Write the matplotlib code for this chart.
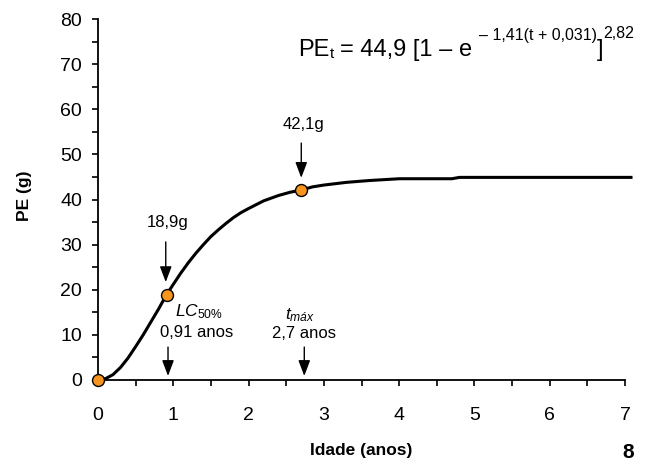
import matplotlib
matplotlib.use("Agg")
import matplotlib.pyplot as plt

plt.rcParams['font.family'] = ['Liberation Sans', 'DejaVu Sans']
plt.rcParams['mathtext.fontset'] = 'custom'
plt.rcParams['mathtext.rm'] = 'Liberation Sans'
plt.rcParams['mathtext.it'] = 'Liberation Sans:italic'
plt.rcParams['mathtext.bf'] = 'Liberation Sans:bold'

# Curve
age = [0.0, 0.1, 0.2, 0.3, 0.4, 0.5, 0.6, 0.7, 0.8, 0.91, 1.0, 1.1, 1.2, 1.3,
       1.4, 1.5, 1.6, 1.7, 1.8, 1.9, 2.0, 2.2, 2.4, 2.55, 2.7, 2.85, 3.0, 3.3,
       3.6, 4.0, 4.7, 4.8, 7.1]
weight = [0.0, 0.3, 1.2, 2.8, 4.9, 7.4, 10.0, 12.8, 15.6, 18.9, 21.2, 23.7, 26.0,
          28.1, 30.0, 31.8, 33.3, 34.7, 36.0, 37.1, 38.0, 39.7, 40.9, 41.6, 42.1,
          42.8, 43.2, 43.8, 44.2, 44.6, 44.6, 44.9, 44.9]

# Highlighted points
pt_age = [0.0, 0.91, 2.7]
pt_weight = [0.0, 18.9, 42.1]

x_ticks = [0, 1, 2, 3, 4, 5, 6, 7]
y_ticks = [0, 10, 20, 30, 40, 50, 60, 70, 80]

W, H = 646, 462
fig = plt.figure(figsize=(W / 100, H / 100), dpi=100)
ax = fig.add_axes([98/W, 1-380/H, 527/W, 361/H])

ax.plot(age, weight, color='black', lw=2.2, clip_on=False, zorder=3,
        solid_capstyle='butt')
ax.plot(pt_age, pt_weight, 'o', ms=8.6, mfc='#F7941D', mec='black', mew=1.0,
        clip_on=False, zorder=4)

ax.set_xlim(0, 7)
ax.set_ylim(0, 80)
ax.set_xticks(x_ticks)
ax.set_yticks(y_ticks)
ax.set_xticks([0.5, 1.5, 2.5, 3.5, 4.5, 5.5, 6.5], minor=True)
ax.set_yticks([5, 15, 25, 35, 45, 55, 65, 75], minor=True)
ax.spines['top'].set_visible(False)
ax.spines['right'].set_visible(False)
for s in ['left', 'bottom']:
    ax.spines[s].set_linewidth(1.3)
ax.tick_params(which='both', direction='out', length=4.5, width=1.2, color='black')
ax.tick_params(axis='x', which='major', pad=15, labelsize=14)
ax.tick_params(axis='y', which='major', pad=7, labelsize=14)

ax.set_xlabel('Idade (anos)', fontsize=12.5, fontweight='bold', va='center')
ax.xaxis.set_label_coords(0.5, (380 - 450) / 361)
ax.set_ylabel('PE (g)', fontsize=12.5, fontweight='bold', va='center', ha='center')
ax.yaxis.set_label_coords((25 - 98) / 527, 0.51)

arrow = dict(arrowstyle='-|>,head_length=0.95,head_width=0.36', color='black',
             lw=1.0, shrinkA=0, shrinkB=0, mutation_scale=10)

# 42,1g
ax.text(2.73, 56.7, '42,1g', ha='center', va='center', fontsize=12)
ax.annotate('', xy=(2.7, 44.8), xytext=(2.7, 52.5), arrowprops=arrow,
            annotation_clip=False)
# 18,9g
ax.text(0.92, 34.8, '18,9g', ha='center', va='center', fontsize=12)
ax.annotate('', xy=(0.90, 21.7), xytext=(0.90, 30.6), arrowprops=arrow,
            annotation_clip=False)
# LC50%
ax.text(1.02, 15.1, r'$\mathit{LC}_{\mathit{50\%}}$', ha='left', va='center', fontsize=12.5)
ax.text(1.31, 10.6, '0,91 anos', ha='center', va='center', fontsize=12)
ax.annotate('', xy=(0.93, 0.9), xytext=(0.93, 7.3), arrowprops=arrow,
            annotation_clip=False)
# tmax
ax.text(2.68, 14.4, r'$\mathit{t}_{\mathit{máx}}$', ha='center', va='center', fontsize=12.5)
ax.text(2.74, 10.4, '2,7 anos', ha='center', va='center', fontsize=12)
ax.annotate('', xy=(2.74, 0.9), xytext=(2.74, 7.3), arrowprops=arrow,
            annotation_clip=False)

# Equation, composed piece by piece (pixel positions from top-left)
renderer = fig.canvas.get_renderer()
pieces = [
    ('PE', 17, 56, 0),
    ('t', 11, 58, 0),
    ('= 44,9 [1 – e', 17, 56, 6),
    ('– 1,41(t + 0,031)', 11.5, 40, 7),
    (']', 17, 56, 0),
    ('2,82', 11.5, 38, 0),
]
x = 298
for txt, size, base_top, kern in pieces:
    x += kern
    t = fig.text(x / W, 1 - base_top / H, txt, ha='left', va='baseline',
                 fontsize=size)
    bb = t.get_window_extent(renderer=renderer)
    x += bb.width

fig.text(628/W, 1-453/H, '8', ha='center', va='center', fontsize=15,
         fontweight='bold')

fig.savefig('out.png', dpi=100)
